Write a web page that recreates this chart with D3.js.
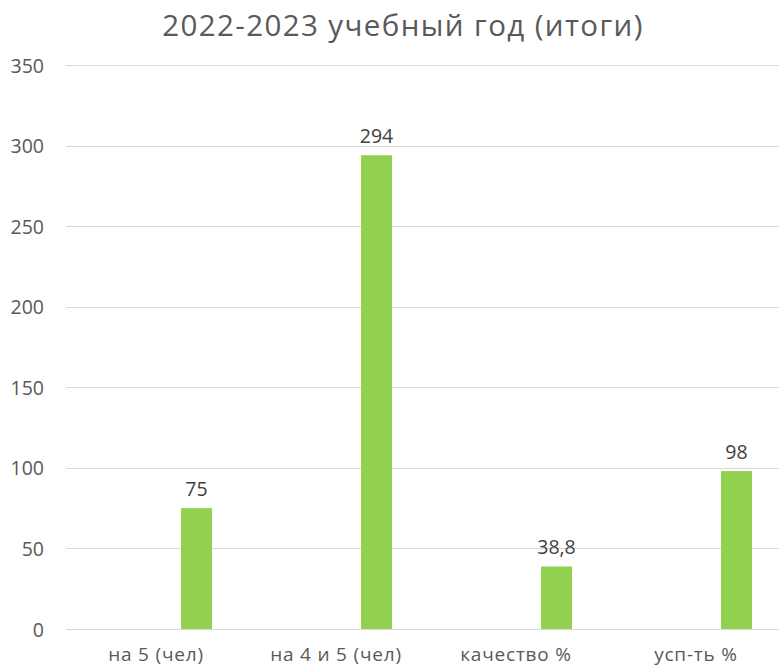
<!DOCTYPE html>
<html><head><meta charset="utf-8">
<script src="https://cdn.jsdelivr.net/npm/d3@7"></script>
<style>body{margin:0;background:#fff}svg{display:block}</style>
</head><body>
<script>
const title = "2022-2023 учебный год (итоги)";
const categories = ["на 5 (чел)", "на 4 и 5 (чел)", "качество %", "усп-ть %"];
const series = ["пусто", "итоги"];
const values = [75, 294, 38.8, 98];
const valueLabels = ["75", "294", "38,8", "98"];
const yTicks = [0, 50, 100, 150, 200, 250, 300, 350];

const W = 782, H = 666;
const font = "'Open Sans', sans-serif";
const svg = d3.select("body").append("svg").attr("width", W).attr("height", H);

const y = d3.scaleLinear().domain([0, 350]).range([629, 65]);
const x = d3.scaleBand().domain(categories).range([66, 786]).padding(0);
const xs = d3.scaleBand().domain(series).range([0, x.bandwidth()])
  .paddingInner(50/81).paddingOuter(34/81);

// gridlines
svg.append("g").selectAll("line").data(yTicks).join("line")
  .attr("x1", 66).attr("x2", 779)
  .attr("y1", d => Math.round(y(d)) + 0.5).attr("y2", d => Math.round(y(d)) + 0.5)
  .attr("stroke", "#d9d9d9").attr("stroke-width", 1);

// y axis labels
const yAxis = d3.axisLeft(y).tickValues(yTicks).tickSize(0).tickPadding(0);
const ga = svg.append("g").attr("transform", "translate(44,0)").call(yAxis);
ga.select(".domain").remove();
ga.selectAll("text").attr("font-family", font).attr("font-size", 19.5).attr("fill", "#595959")
  .attr("dy", "0.36em");

// x axis labels
const xAxis = d3.axisBottom(x).tickSize(0).tickPadding(0);
const gx = svg.append("g").attr("transform", "translate(0,661)").call(xAxis);
gx.select(".domain").remove();
gx.selectAll("text").attr("font-family", font).attr("font-size", 19).attr("fill", "#595959")
  .attr("letter-spacing", 0.8).attr("dy", 0).attr("y", 0);

// bars
svg.append("g").selectAll("rect").data(values).join("rect")
  .attr("x", (d, i) => x(categories[i]) + xs("итоги"))
  .attr("width", xs.bandwidth())
  .attr("y", d => y(d))
  .attr("height", d => y(0) - y(d))
  .attr("fill", "#92d050");

// data labels
svg.append("g").selectAll("text").data(values).join("text")
  .attr("x", (d, i) => x(categories[i]) + xs("итоги") + xs.bandwidth()/2)
  .attr("y", d => y(d) - 12)
  .attr("text-anchor", "middle")
  .attr("font-family", font).attr("font-size", 19.5).attr("fill", "#404040")
  .text((d, i) => valueLabels[i]);

// title
svg.append("text").attr("x", 403).attr("y", 36).attr("text-anchor", "middle")
  .attr("font-family", font).attr("font-size", 29.5).attr("fill", "#595959")
  .attr("letter-spacing", 1.4)
  .text(title);
</script>
</body></html>
